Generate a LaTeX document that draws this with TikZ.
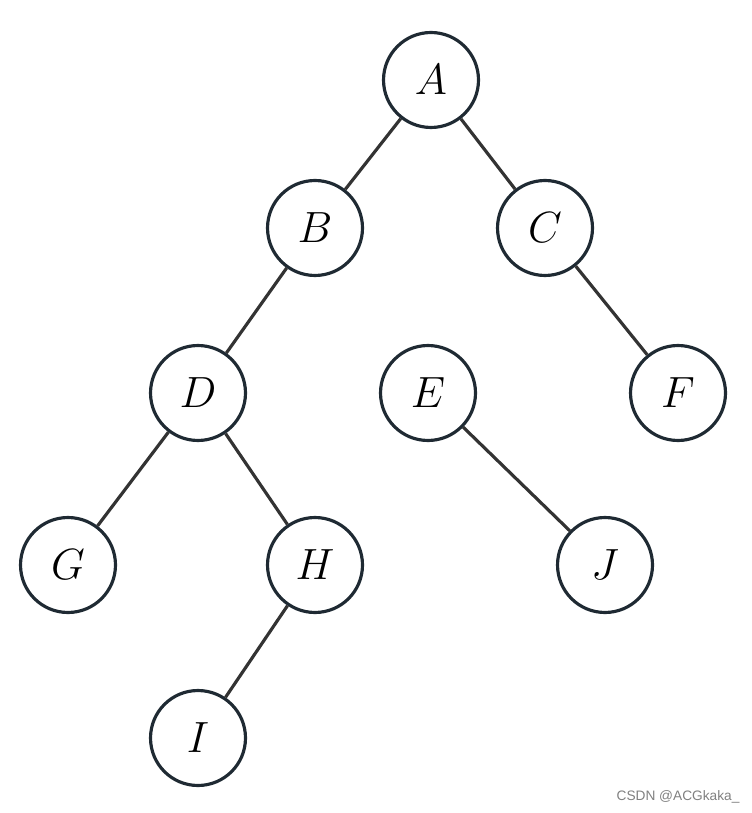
\documentclass[tikz,border=0pt]{standalone}
\usepackage{fontspec}
\newfontfamily\marksans{Liberation Sans}
\usepackage{xcolor}
\usetikzlibrary{positioning}
\definecolor{ringcol}{HTML}{1F2A33}
\definecolor{edgecol}{HTML}{333333}
\begin{document}
\begin{tikzpicture}[x=0.02cm, y=-0.02cm,
  every node/.style={circle, draw=ringcol, line width=1.8pt, minimum size=1.9cm,
  inner sep=0pt, font=\fontsize{27}{32}\selectfont},
  link/.style={draw=edgecol, line width=1.8pt}]
  \useasboundingbox (0,0) rectangle (751,813);
  \node (A) at (431,80) {$A$};
  \node (B) at (315,228) {$B$};
  \node (C) at (545,228) {$C$};
  \node (D) at (198,393) {$D$};
  \node (E) at (428,393) {$E$};
  \node (F) at (678,393) {$F$};
  \node (G) at (68,565) {$G$};
  \node (H) at (315,565) {$H$};
  \node (J) at (605,565) {$J$};
  \node (I) at (198,738) {$I$};
  \draw[link] (A) -- (B);
  \draw[link] (A) -- (C);
  \draw[link] (B) -- (D);
  \draw[link] (C) -- (F);
  \draw[link] (D) -- (G);
  \draw[link] (D) -- (H);
  \draw[link] (E) -- (J);
  \draw[link] (H) -- (I);
  \node[draw=none, rectangle, minimum size=0pt, text=gray,
    font=\marksans\fontsize{7.8}{9}\selectfont] (mark) at (678,797) {CSDN @ACGkaka\_};
\end{tikzpicture}
\end{document}
